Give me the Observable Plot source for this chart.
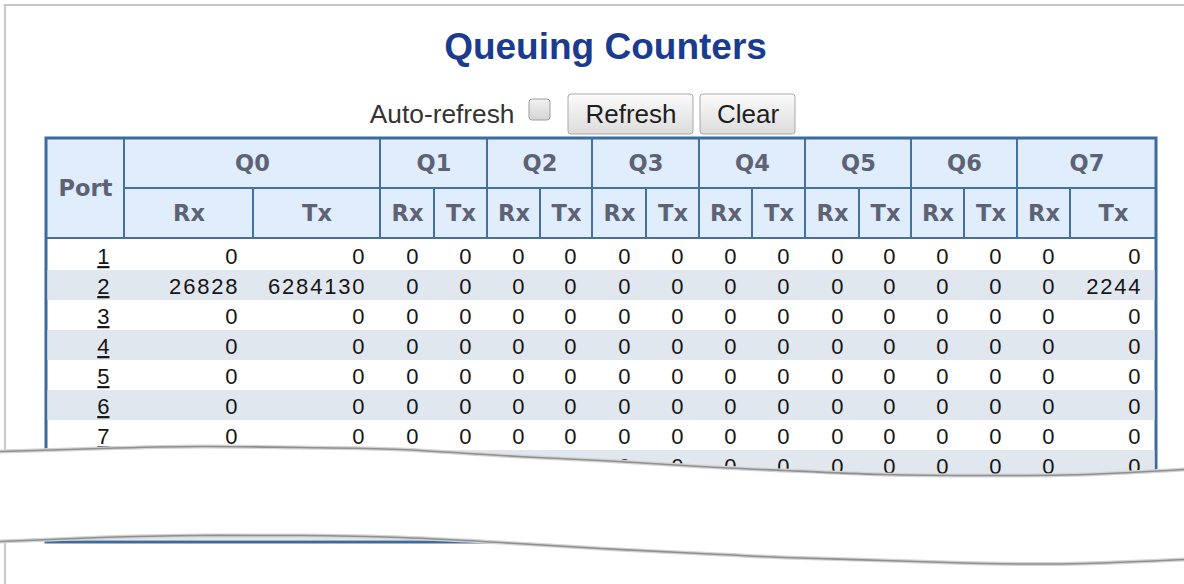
<!DOCTYPE html>
<html><head><meta charset="utf-8">
<script src="https://cdn.jsdelivr.net/npm/d3@7"></script>
<script src="https://cdn.jsdelivr.net/npm/@observablehq/plot@0.6"></script>
<style>
html,body{margin:0;padding:0;background:#fff;}
#stage{position:relative;width:1184px;height:584px;overflow:hidden;background:#fff;}
#stage svg{position:absolute;left:0;top:0;}
</style></head><body><div id="stage"></div>
<script>
// ---------- data ----------
const pageTitle = "Queuing Counters";
const controlLabel = "Auto-refresh";
const buttonLabels = ["Refresh", "Clear"];
const portHeader = "Port";
const queues = ["Q0", "Q1", "Q2", "Q3", "Q4", "Q5", "Q6", "Q7"];
const directions = ["Rx", "Tx"];
const ports = ["1", "2", "3", "4", "5", "6", "7", "8", "9", "10"];
const q0Rx = [0, 26828, 0, 0, 0, 0, 0, 0, 0, 0];
const q0Tx = [0, 6284130, 0, 0, 0, 0, 0, 0, 0, 0];
const q1Rx = [0, 0, 0, 0, 0, 0, 0, 0, 0, 0];
const q1Tx = [0, 0, 0, 0, 0, 0, 0, 0, 0, 0];
const q2Rx = [0, 0, 0, 0, 0, 0, 0, 0, 0, 0];
const q2Tx = [0, 0, 0, 0, 0, 0, 0, 0, 0, 0];
const q3Rx = [0, 0, 0, 0, 0, 0, 0, 0, 0, 0];
const q3Tx = [0, 0, 0, 0, 0, 0, 0, 0, 0, 0];
const q4Rx = [0, 0, 0, 0, 0, 0, 0, 0, 0, 0];
const q4Tx = [0, 0, 0, 0, 0, 0, 0, 0, 0, 0];
const q5Rx = [0, 0, 0, 0, 0, 0, 0, 0, 0, 0];
const q5Tx = [0, 0, 0, 0, 0, 0, 0, 0, 0, 0];
const q6Rx = [0, 0, 0, 0, 0, 0, 0, 0, 0, 0];
const q6Tx = [0, 0, 0, 0, 0, 0, 0, 0, 0, 0];
const q7Rx = [0, 0, 0, 0, 0, 0, 0, 0, 0, 0];
const q7Tx = [0, 2244, 0, 0, 0, 0, 0, 0, 0, 0];
const counters = [q0Rx, q0Tx, q1Rx, q1Tx, q2Rx, q2Tx, q3Rx, q3Tx, q4Rx, q4Tx, q5Rx, q5Tx, q6Rx, q6Tx, q7Rx, q7Tx];

// ---------- layout (page geometry) ----------
const W = 1184, H = 584;
const colEdges = [46, 124, 253, 380, 434, 487, 540, 592, 646, 699, 752, 805, 859, 911, 964, 1017, 1070, 1156];
const headTop = 138, headMid = 188, headBottom = 238, tableBottom = 542;
const tearX     = [0,   100, 200, 300, 400, 500, 600, 700, 784, 884, 984, 1084, 1184];
const tearUpper = [451, 448, 446, 447, 449, 455, 460, 466, 470, 474, 475, 474, 469];
const tearLower = [541, 537, 535, 535, 537, 542, 548, 553, 557, 560, 563, 563, 559];
const buttonBoxes = [[568, 693], [700, 795]];

const SANS = "Liberation Sans, Arial, sans-serif";
const HEAD = "DejaVu Sans, Verdana, sans-serif";
const headColor = "#5d6275";
const lineColor = "#4471a2";
const bodyText = "#151515";

// header cells
const headerCells = [{label: portHeader, x1: colEdges[0], x2: colEdges[1], y1: headTop, y2: headBottom}];
queues.forEach((q, i) => headerCells.push({label: q, x1: colEdges[1 + 2 * i], x2: colEdges[3 + 2 * i], y1: headTop, y2: headMid}));
queues.forEach((q, i) => directions.forEach((d, j) =>
  headerCells.push({label: d, x1: colEdges[1 + 2 * i + j], x2: colEdges[2 + 2 * i + j], y1: headMid, y2: headBottom})));

const buttons = buttonLabels.map((label, i) => ({label, x1: buttonBoxes[i][0], x2: buttonBoxes[i][1]}));

const stage = document.getElementById("stage");
const base = {width: W, height: H, margin: 0, style: {background: "transparent", maxWidth: "none"}};

// ---------- layer A: page, controls, header ----------
const svgA = Plot.plot({
  ...base,
  x: {type: "identity", axis: null},
  y: {type: "identity", axis: null},
  marks: [
    Plot.ruleX([4.5], {y1: 4.5, y2: H, stroke: "#c8c8c8", strokeWidth: 2}),
    Plot.ruleY([4.5], {x1: 3.5, x2: W, stroke: "#c8c8c8", strokeWidth: 2}),
    Plot.text([pageTitle], {x: 605, y: 47, text: d => d, fontSize: 37, fontWeight: "bold", fontFamily: SANS, fill: "#1b3b8f"}),
    Plot.text([controlLabel], {x: 514, y: 114.5, text: d => d, textAnchor: "end", fontSize: 26.3, fontFamily: SANS, fill: "#333"}),
    Plot.rect([controlLabel], {x1: 529, x2: 550, y1: 99, y2: 120, rx: 3, fill: "url(#cbGrad)", stroke: "#9d9d9d", strokeWidth: 1}),
    Plot.rect(buttons, {x1: "x1", x2: "x2", y1: 94, y2: 134, rx: 3, fill: "url(#btnGrad)", stroke: "#a9a9a9", strokeWidth: 1}),
    Plot.text(buttons, {x: d => (d.x1 + d.x2) / 2, y: 114.5, text: "label", fontSize: 26, fontFamily: SANS, fill: "#1e1e1e"}),
    Plot.rect(headerCells, {x1: "x1", x2: "x2", y1: "y1", y2: "y2", fill: "#e0edfc", stroke: lineColor, strokeWidth: 2}),
    Plot.text(headerCells, {x: d => (d.x1 + d.x2) / 2, y: d => (d.y1 + d.y2) / 2, text: "label", dy: 0.5,
      fontSize: 22.5, fontWeight: "bold", fontFamily: HEAD, fill: headColor}),
    Plot.rect([0], {x1: colEdges[0], x2: colEdges[colEdges.length - 1], y1: headTop, y2: tableBottom, fill: "none", stroke: "#3d6b9d", strokeWidth: 3})
  ]
});
d3.select(svgA).insert("defs", ":first-child").html(`
  <linearGradient id="btnGrad" x1="0" y1="0" x2="0" y2="1">
    <stop offset="0" stop-color="#fbfbfb"/><stop offset="1" stop-color="#dcdcdc"/></linearGradient>
  <linearGradient id="cbGrad" x1="0" y1="0" x2="0" y2="1">
    <stop offset="0" stop-color="#f2f2f2"/><stop offset="1" stop-color="#d4d4d4"/></linearGradient>`);
stage.appendChild(svgA);

// ---------- layer B: body rows ----------
const cells = [];
ports.forEach((p, r) => counters.forEach((series, c) => cells.push({port: p, col: c + 1, value: String(series[r])})));
const svgB = Plot.plot({
  ...base,
  x: {type: "identity", axis: null},
  y: {type: "band", domain: ports, range: [239, 540.5], padding: 0, axis: null},
  marks: [
    Plot.barX(ports.filter((p, i) => i % 2 === 1), {x1: colEdges[0] + 1.5, x2: colEdges[colEdges.length - 1] - 1.5, y: d => d, fill: "#e1e7ef"}),
    Plot.text(cells, {x: d => colEdges[d.col + 1] - 14.2, y: "port", text: "value", textAnchor: "end", dy: 1.5,
      fontSize: 22, fontFamily: SANS, fill: bodyText}),
    Plot.text(ports, {x: colEdges[1] - 15, y: d => d, text: d => d, textAnchor: "end", dy: 1.5,
      fontSize: 22, fontFamily: SANS, fill: bodyText})
  ]
});
const textGroups = d3.select(svgB).selectAll('g[aria-label="text"]').nodes();
d3.select(textGroups[0]).selectAll("text").attr("letter-spacing", "1.8px");
d3.select(textGroups[textGroups.length - 1]).selectAll("text")
  .attr("text-decoration", "underline").style("text-decoration", "underline");
stage.appendChild(svgB);

// ---------- layer C: torn-paper cut ----------
const tear = tearX.map((x, i) => ({x, upper: tearUpper[i], lower: tearLower[i]}));
const svgC = Plot.plot({
  ...base,
  x: {type: "identity", axis: null},
  y: {type: "identity", axis: null},
  marks: [
    Plot.areaY(tear, {x: "x", y1: "upper", y2: "lower", curve: "natural", fill: "white"}),
    Plot.line(tear, {x: "x", y: "upper", curve: "natural", stroke: "#d4d4d4", strokeWidth: 4}),
    Plot.line(tear, {x: "x", y: "lower", curve: "natural", stroke: "#d4d4d4", strokeWidth: 4}),
    Plot.line(tear, {x: "x", y: "upper", curve: "natural", stroke: "#909090", strokeWidth: 1.6}),
    Plot.line(tear, {x: "x", y: "lower", curve: "natural", stroke: "#909090", strokeWidth: 1.6})
  ]
});
stage.appendChild(svgC);
</script></body></html>
